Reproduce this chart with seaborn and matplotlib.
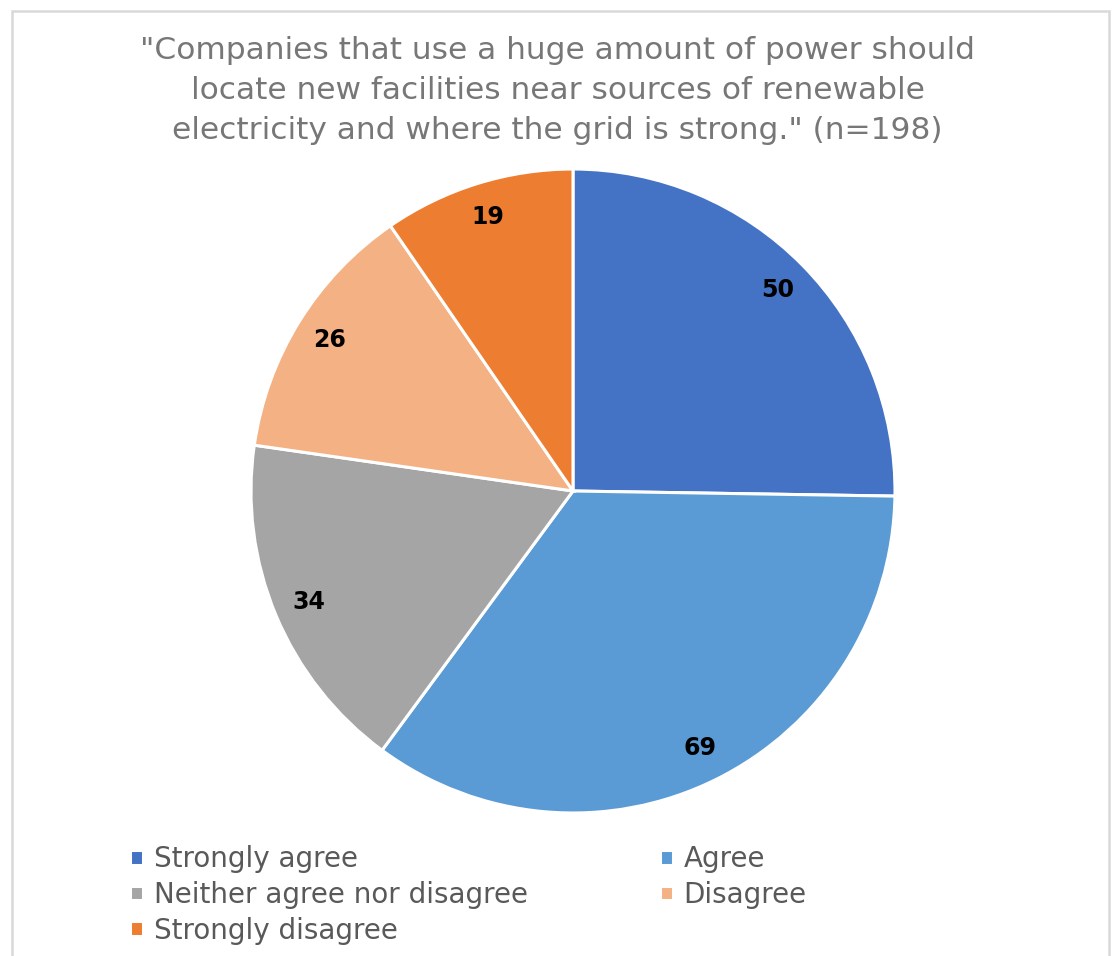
import matplotlib
matplotlib.use("Agg")
import matplotlib.pyplot as plt
import seaborn as sns
from matplotlib.patches import Rectangle

categories = ["Strongly agree", "Agree", "Neither agree nor disagree", "Disagree", "Strongly disagree"]
values = [50, 69, 34, 26, 19]
colors = ["#4472C4", "#5B9BD5", "#A5A5A5", "#F4B183", "#ED7D31"]
title = "\"Companies that use a huge amount of power should\nlocate new facilities near sources of renewable\nelectricity and where the grid is strong.\" (n=198)"

sns.set_theme(style="white")
plt.rcParams['font.family'] = ['DejaVu Sans']

fig = plt.figure(figsize=(11.15, 9.56), dpi=100)
fig.patches.append(Rectangle((0.0105, -0.01), 0.984, 0.998, transform=fig.transFigure,
                             fill=False, edgecolor="#D9D9D9", linewidth=1.8))

ax = fig.add_axes([0.2251, 0.1496, 0.5776, 0.6736])
wedges, texts = ax.pie(values, colors=colors, startangle=90, counterclock=False,
                       labels=[str(v) for v in values], labeldistance=0.89,
                       wedgeprops=dict(edgecolor="white", linewidth=2.2),
                       textprops=dict(fontsize=17, fontweight="bold", color="black",
                                      ha="center", va="center"))
ax.set_xlim(-1, 1)
ax.set_ylim(-1, 1)
ax.set_aspect("equal")

fig.text(0.5, 0.962, title, ha="center", va="top", fontsize=22.5, color="#777777",
         linespacing=1.47)

# row-major legend order for 2 columns
order = [0, 2, 4, 1, 3]
fig.legend([wedges[i] for i in order], [categories[i] for i in order],
           loc="upper left", bbox_to_anchor=(0.117, 0.116), ncol=2,
           frameon=False, fontsize=20, handlelength=0.45, handleheight=0.45,
           handletextpad=0.4, columnspacing=4.75, labelspacing=0.28,
           labelcolor="#595959", borderaxespad=0, borderpad=0)

fig.savefig("out.png", dpi=100)
